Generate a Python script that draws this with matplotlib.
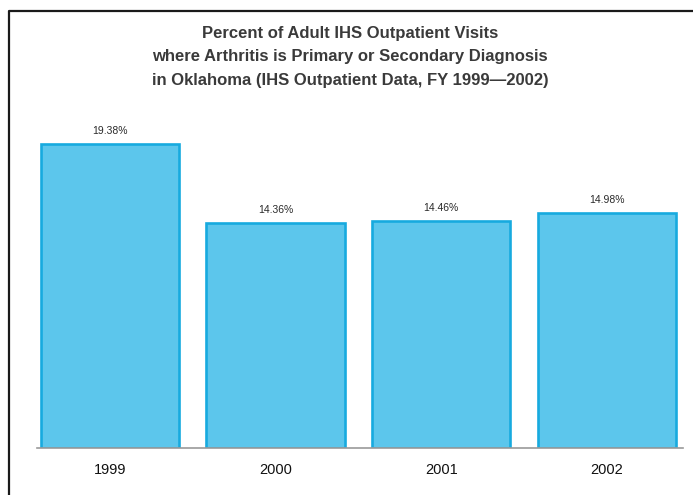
import matplotlib
matplotlib.use('Agg')
import matplotlib.pyplot as plt
from matplotlib.lines import Line2D

years = ['1999', '2000', '2001', '2002']
pct = [19.38, 14.36, 14.46, 14.98]
labels = ['19.38%', '14.36%', '14.46%', '14.98%']

title = ('Percent of Adult IHS Outpatient Visits\n'
         'where Arthritis is Primary or Secondary Diagnosis\n'
         'in Oklahoma (IHS Outpatient Data, FY 1999\u20142002)')

plt.rcParams['font.family'] = ['Liberation Sans', 'DejaVu Sans']

W, H = 693, 495
fig = plt.figure(figsize=(W / 100, H / 100), dpi=100)
fig.patch.set_facecolor('white')

# axes placed in pixel terms: baseline at y=448, x from 37 to 683
ax = fig.add_axes([37 / W, (H - 448) / H, (683 - 37) / W, 392 / H])
x = range(len(years))
ax.bar(x, pct, width=0.835, color='#5CC6EC', edgecolor='#17AADF', linewidth=1.9)
for i, v in enumerate(pct):
    ax.text(i, v + 0.5, labels[i], ha='center', va='bottom', fontsize=7.5, color='#2a2a2a')

ax.set_xlim(-0.44, 3.46)
ax.set_ylim(0, 25)
ax.set_xticks(list(x))
ax.set_xticklabels(years, fontsize=10.5, color='#111111')
ax.tick_params(axis='x', length=0, pad=11)
ax.set_yticks([])
for s in ['top', 'right', 'left']:
    ax.spines[s].set_visible(False)
ax.spines['bottom'].set_color('#9a9a9a')
ax.spines['bottom'].set_linewidth(1.2)

fig.text(350 / W, 1 - 57 / H, title, ha='center', va='center', fontsize=12,
         fontweight='bold', color='#3a3a3a', linespacing=1.72)

# outer frame (left and top edges)
fig.add_artist(Line2D([9 / W, 9 / W, 1.0], [0.0, 1 - 10.5 / H, 1 - 10.5 / H],
                      transform=fig.transFigure, color='#1a1a1a', lw=1.6))

plt.savefig('out.png', dpi=100)
